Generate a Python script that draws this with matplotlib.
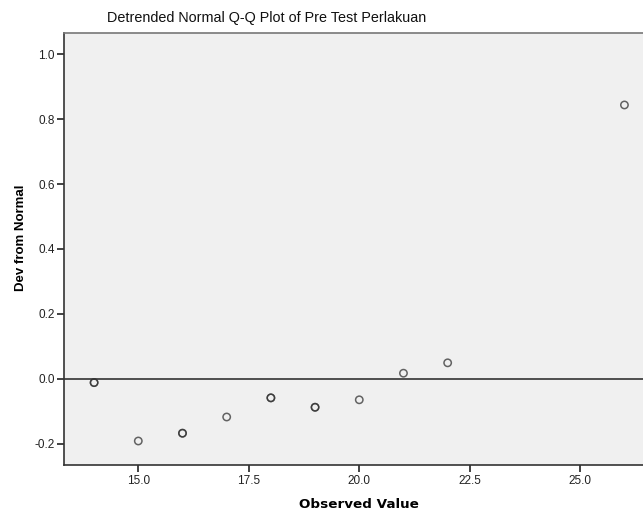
import numpy as np
import matplotlib.pyplot as plt

plt.rcParams['font.family'] = ['Liberation Sans', 'DejaVu Sans']

# observed values (repeats drawn twice, as in the overlapped circles)
obs = [14, 14, 15, 16, 16, 17, 18, 18, 19, 19, 20, 21, 22, 26]
dev = [-0.012, -0.012, -0.192, -0.168, -0.168, -0.118, -0.059, -0.059,
       -0.088, -0.088, -0.065, 0.017, 0.049, 0.844]
xticks = [15.0, 17.5, 20.0, 22.5, 25.0]
yticks = [-0.2, 0.0, 0.2, 0.4, 0.6, 0.8, 1.0]

fig = plt.figure(figsize=(6.43, 5.15), dpi=100)
ax = fig.add_axes([0.1003, 0.0971, 0.8997, 0.8389])
ax.set_facecolor('#f0f0f0')

ax.axhline(0, color='#222222', lw=1.1, zorder=1)
ax.scatter(obs, dev, s=28, facecolors='none', edgecolors='#333333',
           linewidths=1.1, alpha=0.75, zorder=3)

ax.set_xlim(13.33, 26.42)
ax.set_ylim(-0.266, 1.066)
ax.set_xticks(xticks)
ax.set_xticklabels([f"{v:.1f}" for v in xticks])
ax.set_yticks(yticks)
ax.set_yticklabels([f"{v:.1f}" for v in yticks])
ax.tick_params(direction='out', length=5, width=1.2, labelsize=8.5,
               colors='#222222', pad=2)

ax.spines['right'].set_visible(False)
ax.spines['top'].set_color('#777777')
ax.spines['left'].set_color('#333333')
ax.spines['bottom'].set_color('#333333')
for s in ['top', 'left', 'bottom']:
    ax.spines[s].set_linewidth(1.2)

fig.text(267 / 643, 1 - 18 / 515, 'Detrended Normal Q-Q Plot of Pre Test Perlakuan',
         fontsize=10.4, ha='center', va='center', color='#111111')
fig.text(359 / 643, 1 - 505 / 515, 'Observed Value', fontsize=9.7, fontweight='bold',
         family='DejaVu Sans', ha='center', va='center')
fig.text(21 / 643, 1 - 238 / 515, 'Dev from Normal', fontsize=9.5, fontweight='bold',
         ha='center', va='center', rotation=90)

fig.savefig('out.png', dpi=100)
